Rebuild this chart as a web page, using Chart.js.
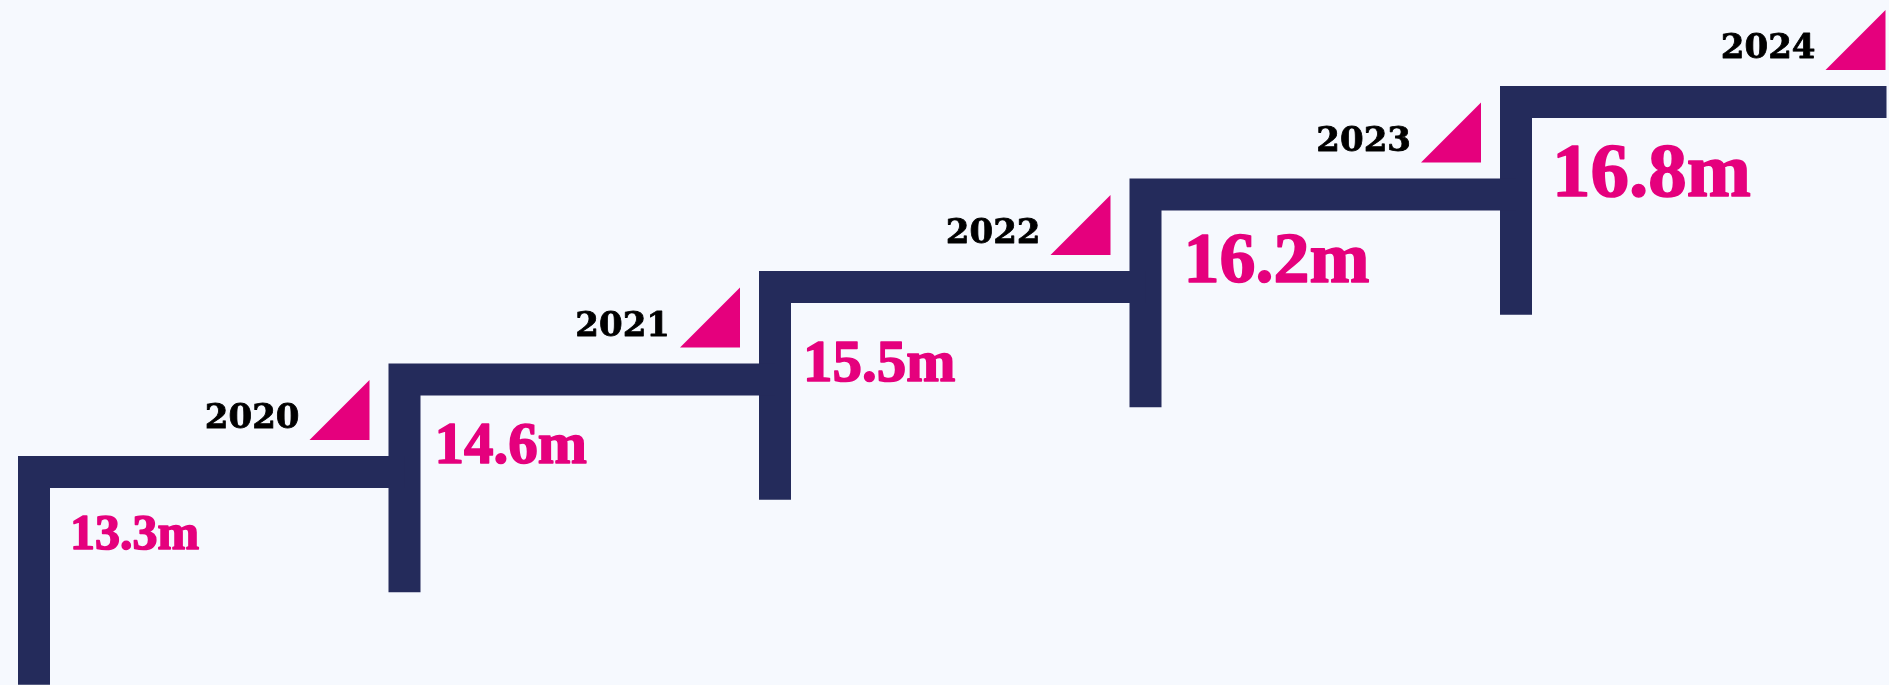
<!DOCTYPE html>
<html>
<head>
<meta charset="utf-8">
<script src="https://cdn.jsdelivr.net/npm/chart.js@4"></script>
<style>
  html, body { margin: 0; padding: 0; background: #f6f9fe; }
  #wrap { width: 1889px; height: 685px; position: relative; }
</style>
</head>
<body>
<div id="wrap"><canvas id="stairs"></canvas></div>
<script>
// data
const years = ['2020', '2021', '2022', '2023', '2024'];
const values = [13.3, 14.6, 15.5, 16.2, 16.8];
const valueLabels = values.map(v => v.toFixed(1) + 'm');

// style
const navy = '#242b5b';
const pink = '#e5007d';
const barWidth = 32;
const stepDepth = 2.3;           // how far each riser drops, in step units
const valueFontSizes = [50, 59, 59, 72, 77];
const valueGapX = [20, 14, 12, 22, 20];   // gap from riser to value label
const valueGapY = [27, 28, 38, 23, 26];   // gap from tread to top of value label

// each step is an upside-down L: riser at index i, tread at level i running to i+1
const datasets = years.map((y, i) => ({
  label: y,
  data: [
    { x: i, y: i - stepDepth },
    { x: i, y: i },
    { x: i + 1, y: i }
  ],
  borderColor: navy,
  borderWidth: barWidth,
  borderJoinStyle: 'miter',
  borderCapStyle: 'butt',
  pointRadius: 0,
  tension: 0,
  fill: false,
  clip: false
}));

const labelPlugin = {
  id: 'stepLabels',
  afterDatasetsDraw(chart) {
    const { ctx, scales: { x, y } } = chart;
    const half = barWidth / 2;
    ctx.save();
    years.forEach((year, i) => {
      const left = x.getPixelForValue(i) - half;
      const treadTop = y.getPixelForValue(i) - half;
      const treadBottom = treadTop + barWidth;
      const last = i === years.length - 1;
      const triRight = last ? x.getPixelForValue(i + 1) - 1 : x.getPixelForValue(i + 1) - half - 19;
      const triBottom = treadTop - 16;
      const s = 60;

      // pink wedge
      ctx.fillStyle = pink;
      ctx.beginPath();
      ctx.moveTo(triRight - s, triBottom);
      ctx.lineTo(triRight, triBottom);
      ctx.lineTo(triRight, triBottom - s);
      ctx.closePath();
      ctx.fill();

      // year
      ctx.fillStyle = '#000';
      ctx.strokeStyle = '#000';
      ctx.lineWidth = 0.8;
      ctx.font = 'bold 34px "DejaVu Serif"';
      ctx.textAlign = 'right';
      ctx.textBaseline = 'alphabetic';
      ctx.fillText(year, triRight - s - 10, triBottom - 12);
      ctx.strokeText(year, triRight - s - 10, triBottom - 12);

      // value
      const fs = valueFontSizes[i];
      const vx = left + barWidth + valueGapX[i];
      const vy = treadBottom + valueGapY[i] + fs * 0.676;
      ctx.fillStyle = pink;
      ctx.strokeStyle = pink;
      ctx.lineWidth = 1.6;
      ctx.lineJoin = 'round';
      ctx.font = 'bold ' + fs + 'px "Liberation Serif"';
      ctx.textAlign = 'left';
      ctx.fillText(valueLabels[i], vx, vy);
      ctx.strokeText(valueLabels[i], vx, vy);
    });
    ctx.restore();
  }
};

new Chart(document.getElementById('stairs'), {
  type: 'line',
  data: { datasets },
  options: {
    responsive: true,
    maintainAspectRatio: false,
    animation: false,
    layout: { padding: 0 },
    plugins: { legend: { display: false }, tooltip: { enabled: false } },
    scales: {
      x: { type: 'linear', display: false, min: -34 / 370.5, max: -34 / 370.5 + 1889 / 370.5 },
      y: { type: 'linear', display: false, min: 472 / 92.5 - 685 / 92.5, max: 472 / 92.5 }
    }
  },
  plugins: [labelPlugin]
});
</script>
</body>
</html>
